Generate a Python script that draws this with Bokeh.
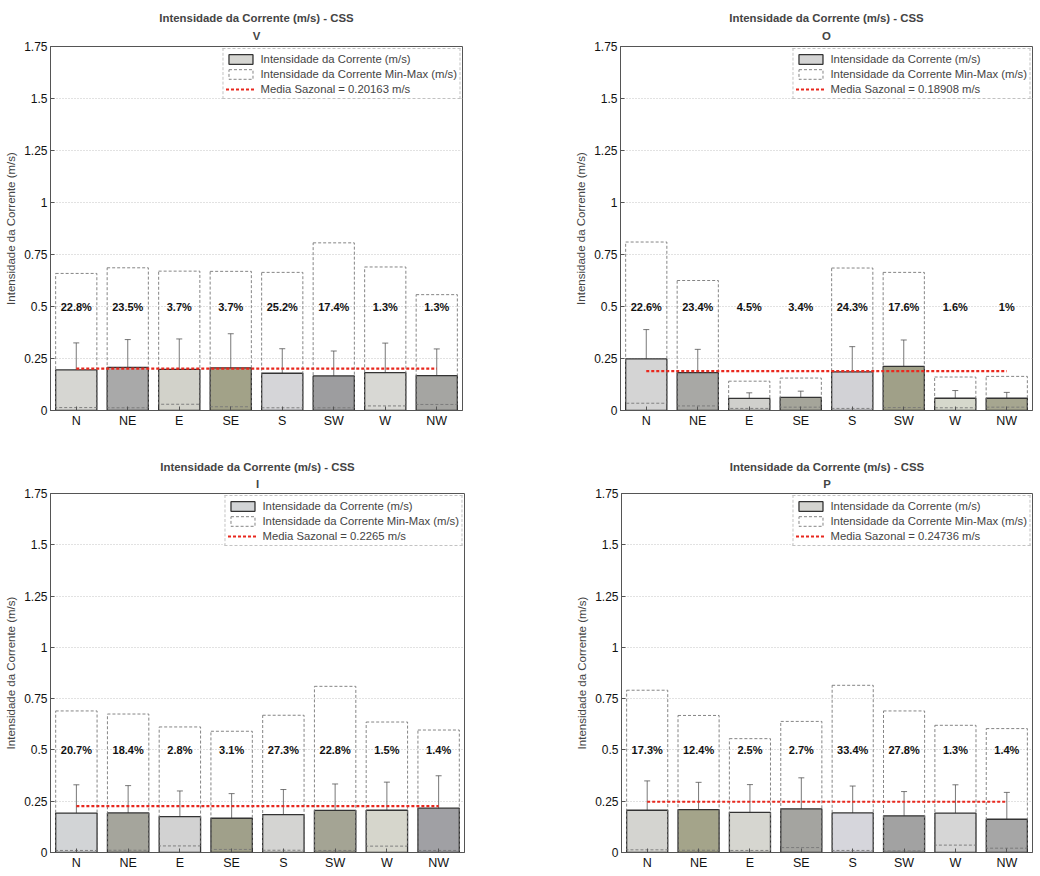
from bokeh.plotting import figure
from bokeh.layouts import column, row
from bokeh.models import (ColumnDataSource, FactorRange, Range1d, Title, Legend, LegendItem,
                          Whisker, TeeHead, NumeralTickFormatter, FixedTicker)
from bokeh.core.properties import value
from bokeh.embed import file_html
from bokeh.resources import INLINE

directions = ["N", "NE", "E", "SE", "S", "SW", "W", "NW"]
y_ticks = [0, 0.25, 0.5, 0.75, 1, 1.25, 1.5, 1.75]

# Season V
v_mean = [0.195, 0.207, 0.198, 0.205, 0.179, 0.166, 0.182, 0.168]
v_std = [0.130, 0.134, 0.146, 0.164, 0.118, 0.120, 0.142, 0.128]
v_min = [0.014, 0.013, 0.030, 0.018, 0.013, 0.013, 0.022, 0.029]
v_max = [0.659, 0.686, 0.670, 0.669, 0.664, 0.806, 0.690, 0.557]
v_pct = ["22.8%", "23.5%", "3.7%", "3.7%", "25.2%", "17.4%", "1.3%", "1.3%"]
v_media = 0.20163

# Season O
o_mean = [0.248, 0.182, 0.058, 0.063, 0.186, 0.212, 0.059, 0.059]
o_std = [0.141, 0.112, 0.027, 0.030, 0.121, 0.127, 0.037, 0.028]
o_min = [0.035, 0.022, 0.010, 0.016, 0.010, 0.014, 0.013, 0.016]
o_max = [0.810, 0.625, 0.141, 0.156, 0.685, 0.664, 0.161, 0.164]
o_pct = ["22.6%", "23.4%", "4.5%", "3.4%", "24.3%", "17.6%", "1.6%", "1%"]
o_media = 0.18908

# Season I
i_mean = [0.192, 0.193, 0.175, 0.167, 0.185, 0.205, 0.206, 0.216]
i_std = [0.138, 0.133, 0.125, 0.120, 0.122, 0.129, 0.137, 0.158]
i_min = [0.010, 0.011, 0.032, 0.015, 0.011, 0.010, 0.031, 0.010]
i_max = [0.690, 0.675, 0.612, 0.591, 0.669, 0.810, 0.636, 0.597]
i_pct = ["20.7%", "18.4%", "2.8%", "3.1%", "27.3%", "22.8%", "1.5%", "1.4%"]
i_media = 0.2265

# Season P
p_mean = [0.206, 0.209, 0.196, 0.213, 0.193, 0.179, 0.192, 0.162]
p_std = [0.143, 0.133, 0.135, 0.151, 0.131, 0.118, 0.138, 0.131]
p_min = [0.013, 0.011, 0.010, 0.024, 0.010, 0.008, 0.036, 0.021]
p_max = [0.791, 0.668, 0.555, 0.639, 0.815, 0.690, 0.620, 0.604]
p_pct = ["17.3%", "12.4%", "2.5%", "2.7%", "33.4%", "27.8%", "1.3%", "1.4%"]
p_media = 0.24736

# styles
COLORS = {
    "V": ["#d6d6d2", "#a9a9a9", "#d2d2ca", "#a2a288", "#d5d5d8", "#9d9d9f", "#d8d8d4", "#a5a5a2"],
    "O": ["#d4d4d4", "#a8a8a5", "#d0d0cc", "#a5a59a", "#d2d2d6", "#a0a088", "#d6d8cc", "#a6a690"],
    "I": ["#d2d4d6", "#a5a59c", "#d2d2d2", "#a0a08a", "#d4d4d2", "#a4a494", "#d6d6cc", "#a0a0a4"],
    "P": ["#d4d4d0", "#a4a48a", "#d6d6d0", "#a4a4a0", "#d6d6dc", "#a2a2a2", "#d6d6d6", "#a6a6a6"],
}
FONT = "Liberation Sans"


def make_panel(season, mean, std, vmin, vmax, pct, media, width, height, borders, standoff):
    left, right, top, bottom = borders
    src = ColumnDataSource(dict(
        d=directions, mean=mean, vmin=vmin, vmax=vmax, pct=pct,
        hi=[m + s for m, s in zip(mean, std)], lo=[m - s for m, s in zip(mean, std)],
        color=COLORS[season], ty=[0.5] * len(directions)))
    p = figure(x_range=FactorRange(*directions, range_padding=0), y_range=Range1d(0, 1.75),
               width=width, height=height, output_backend="svg", toolbar_location=None,
               min_border_left=left, min_border_right=right, min_border_top=top,
               min_border_bottom=bottom, background_fill_color="white",
               border_fill_color="white")
    p.add_layout(Title(text=season, align="center", text_font=FONT, text_font_size="11.4px",
                       text_font_style="bold", standoff=standoff, offset=0), "above")
    p.add_layout(Title(text="Intensidade da Corrente (m/s) - CSS", align="center", text_font=FONT,
                       text_font_size="11.4px", text_font_style="bold", standoff=0), "above")

    bars = p.vbar(x="d", top="mean", bottom=0, width=0.8, source=src, fill_color="color",
                  line_color="#333333", line_width=1.3)
    box = p.vbar(x="d", top="vmax", bottom="vmin", width=0.8, source=src, fill_alpha=0,
                 line_color="#777777", line_width=0.9, line_dash="3 2")
    wh = Whisker(source=src, base="d", upper="hi", lower="lo", line_color="#555555",
                 line_width=0.8,
                 upper_head=TeeHead(size=6, line_color="#555555", line_width=0.8),
                 lower_head=TeeHead(size=6, line_color="#555555", line_width=0.8))
    p.add_layout(wh)
    mline = p.segment(x0=[directions[0]], x1=[directions[-1]], y0=[media], y1=[media],
                      line_color="#e8281e", line_width=2.2, line_dash="3 2")
    p.text(x="d", y="ty", text="pct", source=src, text_align="center", text_baseline="middle",
           text_font=value(FONT), text_font_size=value("11px"), text_font_style="bold",
           text_color="#111111")

    legend = Legend(items=[
        LegendItem(label="Intensidade da Corrente (m/s)", renderers=[bars], index=0),
        LegendItem(label="Intensidade da Corrente Min-Max (m/s)", renderers=[box], index=0),
        LegendItem(label="Media Sazonal = %s m/s" % media, renderers=[mline]),
    ], location="top_right", margin=2, padding=2, spacing=0, label_height=15,
        glyph_height=12, glyph_width=30, label_standoff=5,
        label_text_font=FONT, label_text_font_size="11.3px",
        border_line_color="#888888", border_line_dash="1 1", border_line_width=1,
        background_fill_color="white")
    p.add_layout(legend)

    p.yaxis.ticker = FixedTicker(ticks=y_ticks)
    p.yaxis.formatter = NumeralTickFormatter(format="0.[00]")
    p.yaxis.axis_label = "Intensidade da Corrente (m/s)"
    p.yaxis.axis_label_text_font = FONT
    p.yaxis.axis_label_text_font_size = "11.5px"
    p.yaxis.axis_label_text_font_style = "normal"
    p.yaxis.axis_label_standoff = 4
    for ax in (p.xaxis, p.yaxis):
        ax.major_label_text_font = FONT
        ax.major_label_text_color = "#111111"
        ax.major_tick_in = 4
        ax.major_tick_out = 0
        ax.minor_tick_in = 0
        ax.minor_tick_out = 0
        ax.axis_line_color = "#555555"
        ax.major_tick_line_color = "#555555"
        ax.major_label_standoff = 3
    p.yaxis.major_label_text_font_size = "12px"
    p.xaxis.major_label_text_font_size = "12.5px"
    p.xgrid.grid_line_color = None
    p.ygrid.grid_line_color = "#c4c4c4"
    p.ygrid.grid_line_dash = "1 2"
    p.outline_line_color = "#555555"
    p.outline_line_width = 1
    return p


pv = make_panel("V", v_mean, v_std, v_min, v_max, v_pct, v_media, 520, 440, (50, 58, 46, 30), 9)
po = make_panel("O", o_mean, o_std, o_min, o_max, o_pct, o_media, 520, 440, (100, 8, 46, 30), 9)
pi = make_panel("I", i_mean, i_std, i_min, i_max, i_pct, i_media, 520, 434, (50, 56, 53, 22), 7)
pp = make_panel("P", p_mean, p_std, p_min, p_max, p_pct, p_media, 520, 434, (101, 8, 53, 22), 7)

layout = column(row(pv, po), row(pi, pp))

open("out.html", "w").write(file_html(layout, INLINE))
